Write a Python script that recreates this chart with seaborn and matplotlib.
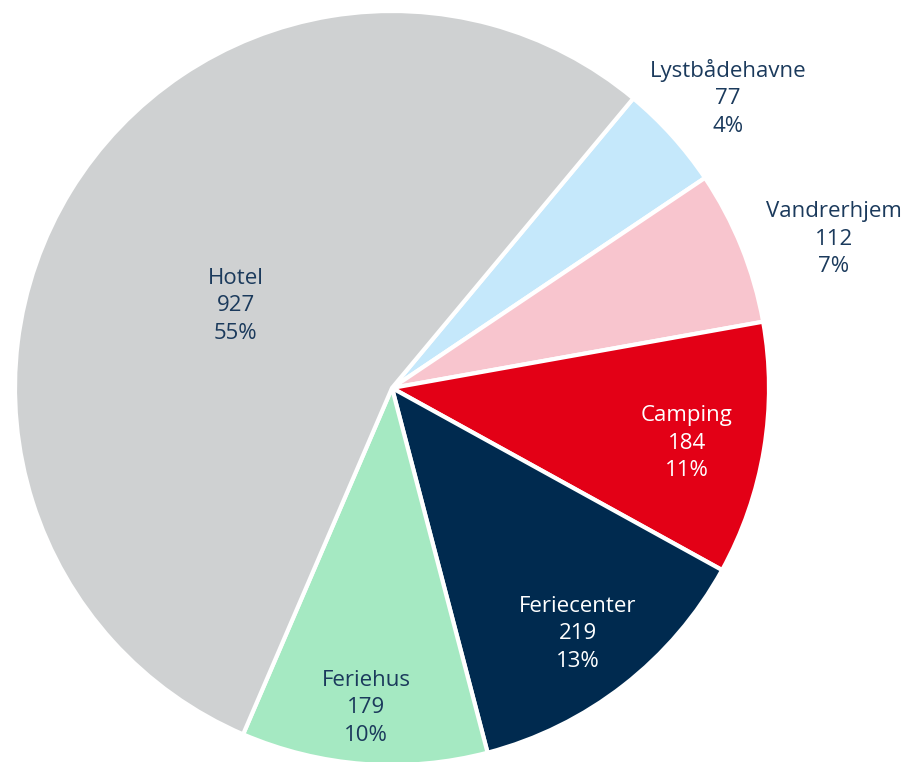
import numpy as np
import matplotlib
matplotlib.use("Agg")
import matplotlib.pyplot as plt
import seaborn as sns

# %% data
categories = ["Lystbådehavne", "Vandrerhjem", "Camping", "Feriecenter", "Feriehus", "Hotel"]
counts = [77, 112, 184, 219, 179, 927]
pct_labels = ["4%", "7%", "11%", "13%", "10%", "55%"]

colours = ["#C5E8FB", "#F8C5CE", "#E30016", "#002A4F", "#A5E9C2", "#CFD1D2"]
text_colours = ["#1B3A5C", "#1B3A5C", "white", "white", "#1B3A5C", "#1B3A5C"]
# label placement: distance from centre (in radii) and angle nudge (deg)
label_dist = [1.177, 1.237, 0.796, 0.818, 0.851, 0.468]
label_nudge = [-1.2, -3.4, -1.2, -0.8, -0.3, 3.8]

# %% plot
sns.set_theme(style="white")
plt.rcParams['font.family'] = ['Open Sans', 'DejaVu Sans']

fig = plt.figure(figsize=(9.2, 7.62), dpi=100)
# square axes, pie radius ~377 px, centre at (392, 388) px
ax = fig.add_axes([15 / 920, (762 - 388 - 377) / 762, 754 / 920, 754 / 762])

wedges, _ = ax.pie(counts, colors=colours, startangle=50.2, counterclock=False,
                   radius=1.0, wedgeprops=dict(edgecolor="white", linewidth=3))

for w, name, n, p, tc, d, nud in zip(wedges, categories, counts, pct_labels,
                                     text_colours, label_dist, label_nudge):
    theta = np.deg2rad((w.theta1 + w.theta2) / 2 + nud)
    ax.text(d * np.cos(theta), d * np.sin(theta), f"{name}\n{n}\n{p}",
            ha="center", va="center", color=tc, fontsize=16,
            linespacing=1.42, clip_on=False)

ax.set_xlim(-1, 1)
ax.set_ylim(-1, 1)
ax.set_aspect("equal")
ax.axis("off")

fig.savefig("out.png", dpi=100)
